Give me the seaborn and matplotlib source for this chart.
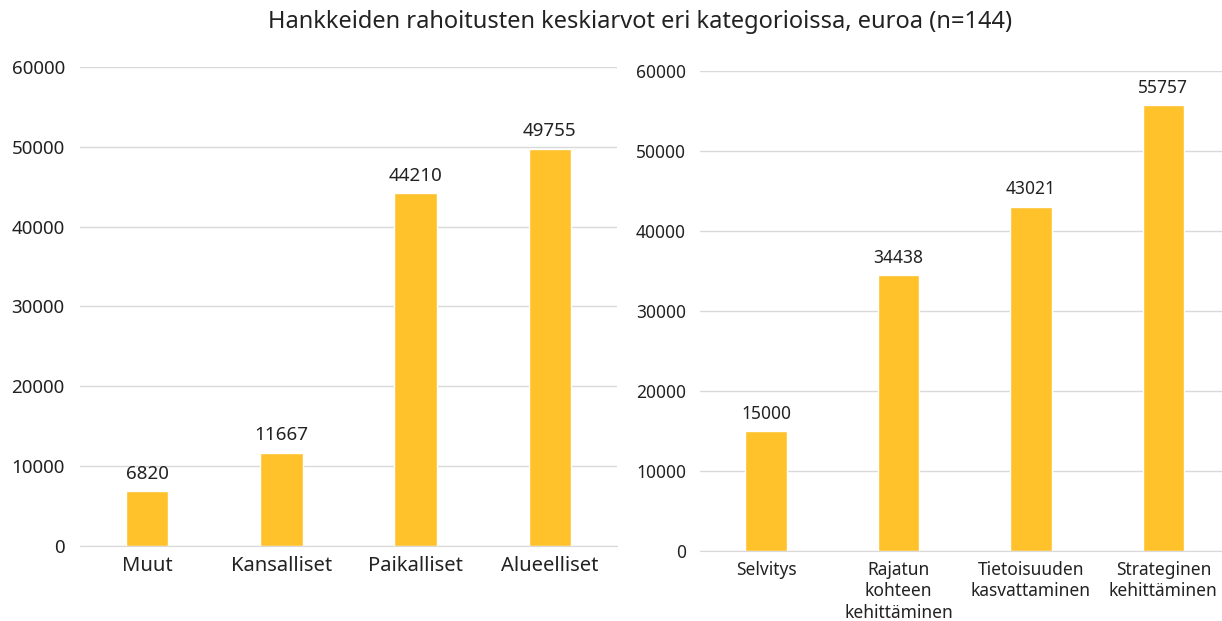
import matplotlib
matplotlib.use("Agg")
import matplotlib.pyplot as plt
import pandas as pd
import seaborn as sns

# Data
left_cats = ["Muut", "Kansalliset", "Paikalliset", "Alueelliset"]
left_vals = [6820, 11667, 44210, 49755]

right_cats = ["Selvitys", "Rajatun\nkohteen\nkehittäminen",
              "Tietoisuuden\nkasvattaminen", "Strateginen\nkehittäminen"]
right_vals = [15000, 34438, 43021, 55757]

title = "Hankkeiden rahoitusten keskiarvot eri kategorioissa, euroa (n=144)"

bar_color = "#FFC22B"
grid_color = "#D9D9D9"
text_color = "#222222"

sns.set_style("white")
plt.rcParams["font.family"] = ["Noto Sans", "DejaVu Sans"]

fig = plt.figure(figsize=(12.22, 6.21), dpi=100)
ax1 = fig.add_axes([0.0655, 0.121, 0.4394, 0.771])
ax2 = fig.add_axes([0.5728, 0.1127, 0.4334, 0.773])


def draw_panel(ax, cats, vals, fs_tick, fs_lab, ypad):
    df = pd.DataFrame({"cat": cats, "val": vals})
    sns.barplot(data=df, x="cat", y="val", color=bar_color, width=0.315,
                saturation=1, ax=ax)
    ax.set_ylim(0, 60000)
    ax.set_yticks(range(0, 60001, 10000))
    ax.set_xlim(-0.5, len(cats) - 0.5)
    ax.set_xlabel("")
    ax.set_ylabel("")
    ax.set_axisbelow(True)
    ax.yaxis.grid(True, color=grid_color, linewidth=1)
    for s in ["top", "right", "left"]:
        ax.spines[s].set_visible(False)
    ax.spines["bottom"].set_color(grid_color)
    ax.tick_params(axis="both", length=0, colors=text_color)
    ax.tick_params(axis="y", labelsize=fs_tick, pad=ypad)
    ax.tick_params(axis="x", labelsize=fs_lab, pad=7)
    for lab in ax.get_xticklabels():
        lab.set_linespacing(1.25)
    for c in ax.containers:
        ax.bar_label(c, fmt="%d", padding=6, fontsize=fs_tick, color=text_color)


draw_panel(ax1, left_cats, left_vals, 13.5, 14.5, 11)
draw_panel(ax2, right_cats, right_vals, 12.5, 12.5, 10)

fig.text(0.524, 0.965, title, ha="center", va="center", fontsize=17,
         fontweight="medium", color=text_color)

fig.savefig("out.png", dpi=100)
